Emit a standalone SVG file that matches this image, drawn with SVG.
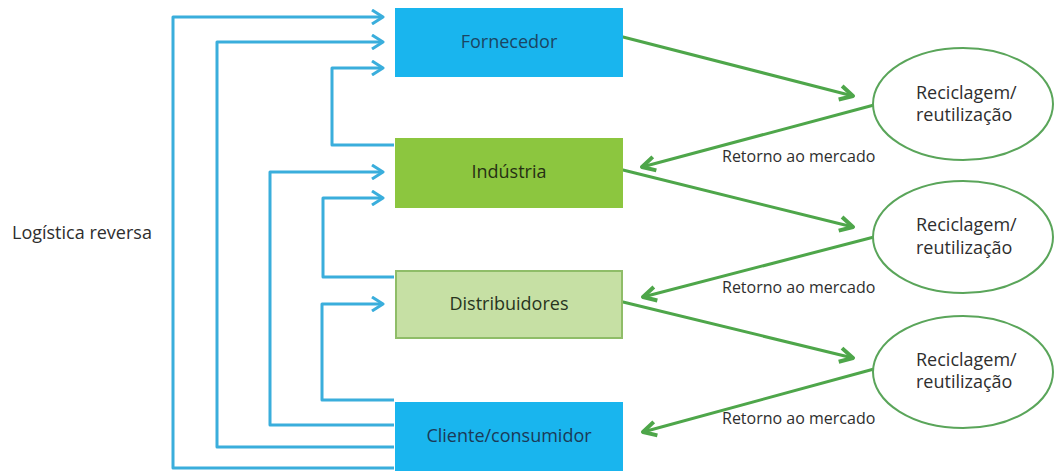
<svg xmlns="http://www.w3.org/2000/svg" width="1054" height="471" viewBox="0 0 1054 471">
  <defs>
    <style>
      .lbl { font-family: "Open Sans", "Liberation Sans", sans-serif; font-size: 18px; fill: #2e2e2e; }
      .ret { font-family: "Open Sans", "Liberation Sans", sans-serif; font-size: 16px; fill: #2e2e2e; }
      .blue { fill: none; stroke: #3aaedc; stroke-width: 3; stroke-linejoin: round; }
      .green { fill: none; stroke: #4ea64a; stroke-width: 3; stroke-linecap: round; }
      .ell { fill: #ffffff; stroke: #5aa55a; stroke-width: 2; }
    </style>
    <marker id="bh" viewBox="0 0 16 16" refX="14" refY="8" markerWidth="16" markerHeight="16" markerUnits="userSpaceOnUse" orient="auto">
      <polyline points="3,1 14,8 3,15" fill="none" stroke="#3aaedc" stroke-width="3" stroke-linejoin="round"/>
    </marker>
    <marker id="gh" viewBox="0 0 18 18" refX="16" refY="9" markerWidth="18" markerHeight="18" markerUnits="userSpaceOnUse" orient="auto">
      <polyline points="3,2 16,9 3,16" fill="none" stroke="#4ea64a" stroke-width="4" stroke-linejoin="round"/>
    </marker>
  </defs>
  <rect width="1054" height="471" fill="#ffffff"/>

  <g id="connectors">
    <polyline class="blue" points="394,468 173,468 173,17 383,17" marker-end="url(#bh)"/>
    <polyline class="blue" points="394,447 217,447 217,42 383,42" marker-end="url(#bh)"/>
    <polyline class="blue" points="394,145 332,145 332,68 383,68" marker-end="url(#bh)"/>
    <polyline class="blue" points="394,425 270,425 270,172 383,172" marker-end="url(#bh)"/>
    <polyline class="blue" points="394,277 323,277 323,198 383,198" marker-end="url(#bh)"/>
    <polyline class="blue" points="394,400 322,400 322,304 383,304" marker-end="url(#bh)"/>

    <line class="green" x1="623" y1="37" x2="853" y2="96" marker-end="url(#gh)"/>
    <line class="green" x1="874" y1="105" x2="642" y2="167" marker-end="url(#gh)"/>
    <line class="green" x1="623" y1="170" x2="853" y2="227" marker-end="url(#gh)"/>
    <line class="green" x1="874" y1="237" x2="643" y2="297" marker-end="url(#gh)"/>
    <line class="green" x1="623" y1="302" x2="853" y2="358" marker-end="url(#gh)"/>
    <line class="green" x1="874" y1="369" x2="643" y2="432" marker-end="url(#gh)"/>
  </g>

  <g id="fornecedor">
    <rect x="395" y="8" width="228" height="69" fill="#19b5ee"/>
    <text class="lbl" x="509" y="48" text-anchor="middle" style="fill:#1b4563">Fornecedor</text>
  </g>
  <g id="industria">
    <rect x="395" y="138" width="228" height="70" fill="#8cc63f"/>
    <text class="lbl" x="509" y="178" text-anchor="middle" style="fill:#263014">Indústria</text>
  </g>
  <g id="distribuidores">
    <rect x="396" y="271" width="226" height="67" fill="#c6e0a4" stroke="#8fbd68" stroke-width="2"/>
    <text class="lbl" x="509" y="310" text-anchor="middle" style="fill:#28341e">Distribuidores</text>
  </g>
  <g id="cliente">
    <rect x="395" y="402" width="228" height="69" fill="#19b5ee"/>
    <text class="lbl" x="509" y="442" text-anchor="middle" style="fill:#1b3a58">Cliente/consumidor</text>
  </g>

  <g id="logistica">
    <text class="lbl" x="12" y="239">Logística reversa</text>
  </g>

  <g id="reciclagem1">
    <ellipse class="ell" cx="963" cy="104" rx="90" ry="56"/>
    <text class="lbl" x="916" y="99">Reciclagem/</text>
    <text class="lbl" x="916" y="121">reutilização</text>
  </g>
  <g id="reciclagem2">
    <ellipse class="ell" cx="963" cy="237" rx="90" ry="56"/>
    <text class="lbl" x="916" y="231">Reciclagem/</text>
    <text class="lbl" x="916" y="254">reutilização</text>
  </g>
  <g id="reciclagem3">
    <ellipse class="ell" cx="963" cy="372" rx="90" ry="56"/>
    <text class="lbl" x="916" y="366">Reciclagem/</text>
    <text class="lbl" x="916" y="388">reutilização</text>
  </g>

  <g id="retorno">
    <text class="ret" x="722" y="162">Retorno ao mercado</text>
    <text class="ret" x="722" y="293">Retorno ao mercado</text>
    <text class="ret" x="722" y="424">Retorno ao mercado</text>
  </g>
</svg>
